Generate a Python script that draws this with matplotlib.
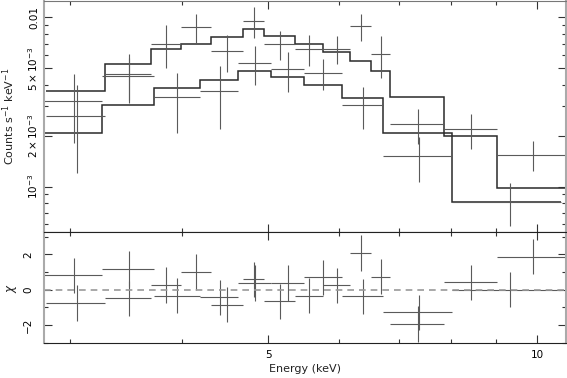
import numpy as np
import matplotlib
matplotlib.use("Agg")
import matplotlib.pyplot as plt
from matplotlib.ticker import FixedLocator, FixedFormatter, MultipleLocator, NullFormatter

# spectrum 1 (upper model): bin edges (keV), model, data, 1-sigma error, residuals
a_edges = [2.82, 3.285, 3.70, 3.99, 4.31, 4.68, 4.95, 5.35, 5.75, 6.18, 6.51, 6.85, 7.87, 9.01, 10.77]
a_model = [3.67, 5.30, 6.47, 6.99, 7.62, 8.50, 7.79, 6.99, 6.22, 5.50, 4.80, 3.37, 1.98, 0.98]
a_rate = [2.60, 4.61, 6.99, 8.73, 6.30, 9.55, 6.93, 6.50, 6.53, 8.88, 6.07, 2.34, 2.18, 1.54]
a_err = [1.39, 1.49, 1.98, 1.71, 1.56, 2.00, 1.32, 1.34, 1.25, 1.64, 1.70, 0.55, 0.50, 0.31]
a_chi = [-0.75, -0.49, 0.27, 1.00, -0.85, 0.59, -0.66, -0.34, 0.25, 2.07, 0.73, -1.95, 0.42, 1.86]

# spectrum 2 (lower model)
b_edges = [2.806, 3.26, 3.72, 4.19, 4.63, 5.04, 5.48, 6.04, 6.72, 8.03, 10.62]
b_model = [2.07, 3.02, 3.81, 4.25, 4.84, 4.42, 3.97, 3.33, 2.07, 0.815]
b_rate = [3.21, 4.48, 3.37, 3.66, 5.35, 4.93, 4.69, 3.02, 1.51, 0.815]
b_err = [1.39, 1.25, 1.30, 1.47, 1.39, 1.29, 0.99, 0.84, 0.45, 0.23]
b_chi = [0.81, 1.17, -0.34, -0.43, 0.38, 0.38, 0.70, -0.38, -1.28, 0.0]

x_major = [5, 10]
x_minor = [3, 4, 6, 7, 8, 9]
y_major = [1e-3, 2e-3, 5e-3, 1e-2]
y_labels = [r"$10^{-3}$", r"$2\times10^{-3}$", r"$5\times10^{-3}$", "0.01"]
y_minor = [6e-4, 7e-4, 8e-4, 9e-4, 3e-3, 4e-3, 6e-3, 7e-3, 8e-3, 9e-3]

scale = 1e-3
model_col = "#2a2a2a"
data_col = "#5a5a5a"
fs = 7.5

fig = plt.figure(figsize=(5.67, 3.78), dpi=100)
W = 567.0
H = 378.0
ax1 = fig.add_axes([44 / W, 1 - 232.3 / H, 522 / W, 231.3 / H])
ax2 = fig.add_axes([44 / W, 1 - 343.3 / H, 522 / W, 111 / H], sharex=ax1)


def draw_set(edges, model, rate, err, chi):
    e = np.array(edges)
    mid = 0.5 * (e[:-1] + e[1:])
    xerr = [mid - e[:-1], e[1:] - mid]
    r = np.array(rate) * scale
    ax1.stairs(np.array(model) * scale, e, baseline=None, color=model_col, lw=1.1)
    ax1.errorbar(mid, r, xerr=xerr, yerr=np.array(err) * scale, fmt="none",
                 ecolor=data_col, elinewidth=0.8, capsize=0)
    ax2.errorbar(mid, chi, xerr=xerr, yerr=np.ones(len(chi)), fmt="none",
                 ecolor=data_col, elinewidth=0.8, capsize=0)


draw_set(a_edges, a_model, a_rate, a_err, a_chi)
draw_set(b_edges, b_model, b_rate, b_err, b_chi)

ax2.axhline(0, color="#999999", lw=1.2, ls=(0, (4, 3)))

ax1.set_xscale("log")
ax1.set_yscale("log")
ax1.set_xlim(2.805, 10.77)
ax1.set_ylim(5.38e-4, 0.01248)
ax2.set_ylim(-3.03, 3.24)

for ax in (ax1, ax2):
    ax.xaxis.set_major_locator(FixedLocator(x_major))
    ax.xaxis.set_minor_locator(FixedLocator(x_minor))
    ax.xaxis.set_minor_formatter(NullFormatter())
    ax.tick_params(which="both", direction="in", top=True, right=True,
                   color="#333333", width=0.8, labelsize=fs)
    ax.tick_params(which="major", length=5.5)
    ax.tick_params(which="minor", length=3)
    for s in ("left", "right"):
        ax.spines[s].set_color("#aaaaaa")
        ax.spines[s].set_linewidth(1.5)
    ax.spines["top"].set_color("#222222")
    ax.spines["bottom"].set_color("#222222")

ax1.spines["top"].set_color("#777777")
ax1.tick_params(axis="x", labelbottom=False)
ax1.yaxis.set_major_locator(FixedLocator(y_major))
ax1.yaxis.set_major_formatter(FixedFormatter(y_labels))
ax1.yaxis.set_minor_locator(FixedLocator(y_minor))
ax1.yaxis.set_minor_formatter(NullFormatter())
for lab in ax1.get_yticklabels():
    lab.set_rotation(90)
    lab.set_va("center")

ax2.xaxis.set_major_formatter(FixedFormatter(["5", "10"]))
ax2.yaxis.set_major_locator(MultipleLocator(2))
ax2.yaxis.set_minor_locator(MultipleLocator(1))
ax2.set_yticks([-2, 0, 2])
ax2.set_yticklabels(["\u22122", "0", "2"])
for lab in ax2.get_yticklabels():
    lab.set_rotation(90)
    lab.set_va("center")
ax1.tick_params(axis="y", pad=3)
ax2.tick_params(axis="y", pad=8)
ax2.tick_params(axis="x", pad=5)

ax1.set_ylabel(r"Counts s$^{-1}$ keV$^{-1}$", fontsize=fs + 0.5, color="#222222", va="center")
ax1.yaxis.set_label_coords(-0.068, 0.5)
ax2.set_ylabel(r"$\chi$", fontsize=fs + 1, color="#222222", va="center")
ax2.yaxis.set_label_coords(-0.062, 0.5)
ax2.set_xlabel("Energy (keV)", fontsize=fs + 0.5, color="#222222", labelpad=3)

fig.savefig("out.png", dpi=100)
